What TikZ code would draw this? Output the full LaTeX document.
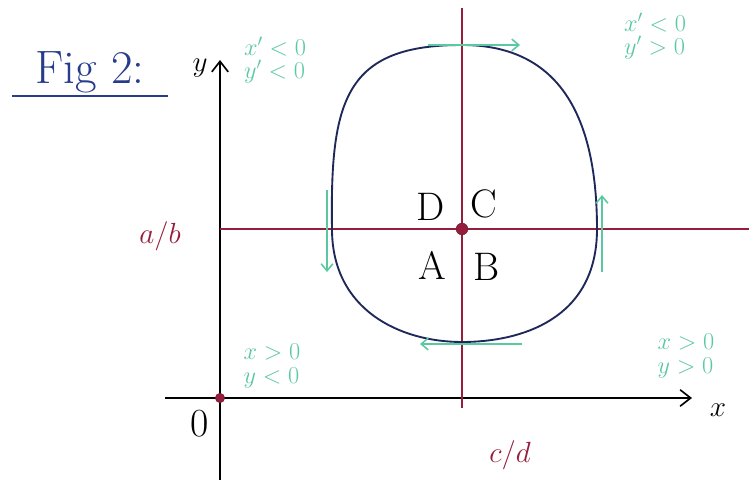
\documentclass[tikz,border=0pt]{standalone}
\usetikzlibrary{arrows.meta}
\definecolor{inkblue}{RGB}{30,40,90}
\definecolor{figblue}{RGB}{40,60,140}
\definecolor{wine}{RGB}{150,30,60}
\definecolor{teal2}{RGB}{90,200,160}
\tikzset{
  axis/.style={black, line width=1.4pt, -{Straight Barb[length=9pt,width=14pt]}},
  redline/.style={wine, line width=1.2pt},
  orbit/.style={inkblue, line width=1.6pt},
  flow/.style={teal2, line width=1.3pt, -{Straight Barb[length=6pt,width=10pt]}},
  sign/.style={teal2, font=\fontsize{20}{20}\selectfont\itshape, align=left, inner sep=0pt},
  big/.style={font=\fontsize{34}{36}\selectfont, inner sep=0pt},
  lbl/.style={wine, font=\fontsize{28}{30}\selectfont\itshape, inner sep=0pt},
  dot/.style={circle, fill=wine, draw=wine!70!black, inner sep=0pt, minimum size=10pt}
}
\begin{document}
\begin{tikzpicture}[x=0.03cm, y=-0.03cm]
\useasboundingbox (0,0) rectangle (749,480);
\fill[white] (0,0) rectangle (749,480);
% coordinates
\coordinate (O) at (220,398);
\coordinate (ytop) at (220,60);
\coordinate (ybot) at (220,480);
\coordinate (xl) at (165,398);
\coordinate (xr) at (692,398);
\coordinate (hl) at (220,229);
\coordinate (hr) at (749,229);
\coordinate (vt) at (462,8);
\coordinate (vb) at (462,408);
\coordinate (otop) at (462,45);
\coordinate (oright) at (597,229);
\coordinate (obot) at (462,342);
\coordinate (oleft) at (332,229);
% axes
\draw[axis] (ybot) -- (ytop);
\draw[axis] (xl) -- (xr);
% red lines
\draw[redline] (hl) -- (hr);
\draw[redline] (vt) -- (vb);
% orbit
\draw[orbit] (otop) .. controls (555,45) and (597,110) .. (oright)
  .. controls (597,320) and (520,342) .. (obot)
  .. controls (400,342) and (332,310) .. (oleft)
  .. controls (330,100) and (345,45) .. (otop) -- cycle;
% flow arrows
\coordinate (t1) at (428,45); \coordinate (t2) at (520,45);
\coordinate (b1) at (522,344); \coordinate (b2) at (420,344);
\coordinate (l1) at (327,190); \coordinate (l2) at (327,272);
\coordinate (r1) at (602,272); \coordinate (r2) at (602,195);
\draw[flow] (t1) -- (t2);
\draw[flow] (b1) -- (b2);
\draw[flow] (l1) -- (l2);
\draw[flow] (r1) -- (r2);
% dots
\node[dot] (eq) at (462,229) {};
\node[dot, minimum size=8pt] (orig) at (O) {};
% labels
\node[font=\fontsize{40}{42}\selectfont, inner sep=0pt, figblue] (fig) at (90,72) {Fig 2:};
\draw[figblue, line width=1.6pt] (12,96) -- (168,96);
\node[big] (ylab) at (200,68) {$y$};
\node[big] (xlab) at (718,410) {$x$};
\node[big] (zero) at (200,424) {0};
\node[big] (D) at (431,207) {D};
\node[big] (C) at (484,204) {C};
\node[big] (A) at (432,265) {A};
\node[big] (B) at (487,267) {B};
\node[lbl] (ab) at (160,236) {$a/b$};
\node[lbl] (cd) at (510,455) {$c/d$};
% signs
\node[sign] (s1) at (275,60) {$x'<0$\\$y'<0$};
\node[sign] (s2) at (655,36) {$x'<0$\\$y'>0$};
\node[sign] (s3) at (272,366) {$x>0$\\$y<0$};
\node[sign] (s4) at (686,356) {$x>0$\\$y>0$};
\end{tikzpicture}
\end{document}
